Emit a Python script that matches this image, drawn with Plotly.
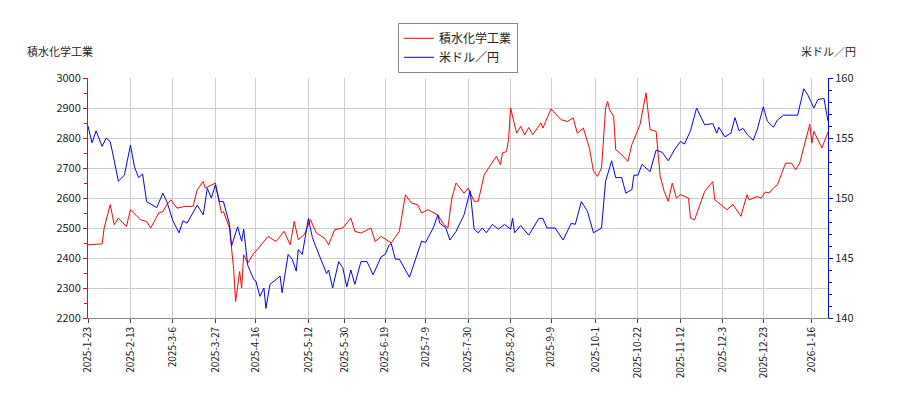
import plotly.graph_objects as go

red_dates = ["2025-01-23","2025-01-30","2025-01-31","2025-02-03","2025-02-05","2025-02-07","2025-02-11","2025-02-13","2025-02-18","2025-02-21","2025-02-23","2025-02-27","2025-03-01","2025-03-03","2025-03-05","2025-03-08","2025-03-12","2025-03-16","2025-03-18","2025-03-21","2025-03-22","2025-03-25","2025-03-27","2025-03-30","2025-03-31","2025-04-03","2025-04-05","2025-04-06","2025-04-08","2025-04-09","2025-04-10","2025-04-12","2025-04-15","2025-04-17","2025-04-22","2025-04-26","2025-04-30","2025-05-03","2025-05-05","2025-05-07","2025-05-10","2025-05-13","2025-05-16","2025-05-20","2025-05-22","2025-05-25","2025-05-29","2025-06-02","2025-06-04","2025-06-07","2025-06-12","2025-06-14","2025-06-17","2025-06-22","2025-06-26","2025-06-29","2025-07-02","2025-07-05","2025-07-07","2025-07-10","2025-07-15","2025-07-18","2025-07-20","2025-07-22","2025-07-24","2025-07-28","2025-07-30","2025-08-02","2025-08-04","2025-08-07","2025-08-11","2025-08-13","2025-08-15","2025-08-16","2025-08-18","2025-08-19","2025-08-20","2025-08-23","2025-08-25","2025-08-27","2025-08-29","2025-08-31","2025-09-04","2025-09-05","2025-09-09","2025-09-14","2025-09-17","2025-09-20","2025-09-22","2025-09-25","2025-09-28","2025-09-30","2025-10-02","2025-10-04","2025-10-06","2025-10-07","2025-10-08","2025-10-10","2025-10-11","2025-10-14","2025-10-17","2025-10-19","2025-10-23","2025-10-26","2025-10-28","2025-10-31","2025-11-02","2025-11-04","2025-11-06","2025-11-08","2025-11-10","2025-11-12","2025-11-16","2025-11-17","2025-11-19","2025-11-21","2025-11-24","2025-11-28","2025-11-29","2025-12-02","2025-12-05","2025-12-08","2025-12-12","2025-12-13","2025-12-15","2025-12-16","2025-12-20","2025-12-22","2025-12-24","2025-12-26","2025-12-28","2025-12-30","2026-01-03","2026-01-06","2026-01-08","2026-01-10","2026-01-15","2026-01-16","2026-01-17","2026-01-21","2026-01-24"]
red_values = [2444,2447,2500,2578,2511,2533,2505,2561,2527,2522,2500,2550,2555,2578,2594,2566,2572,2572,2627,2655,2633,2644,2650,2550,2555,2500,2366,2255,2355,2300,2411,2383,2416,2430,2472,2455,2489,2444,2522,2461,2478,2528,2483,2466,2444,2494,2500,2533,2489,2483,2500,2455,2472,2450,2489,2611,2583,2578,2550,2561,2544,2511,2500,2600,2650,2616,2633,2589,2589,2678,2716,2739,2711,2750,2755,2794,2900,2816,2839,2811,2835,2811,2850,2833,2897,2861,2855,2867,2816,2833,2767,2689,2672,2700,2900,2922,2894,2872,2761,2744,2722,2778,2844,2950,2828,2822,2672,2622,2589,2650,2600,2611,2600,2533,2527,2566,2622,2655,2594,2578,2561,2578,2539,2566,2611,2594,2605,2600,2620,2617,2633,2644,2716,2716,2694,2716,2846,2783,2822,2767,2820]

blue_dates = ["2025-01-23","2025-01-25","2025-01-27","2025-01-30","2025-02-01","2025-02-03","2025-02-05","2025-02-07","2025-02-10","2025-02-13","2025-02-15","2025-02-17","2025-02-19","2025-02-21","2025-02-26","2025-03-01","2025-03-03","2025-03-06","2025-03-09","2025-03-11","2025-03-13","2025-03-18","2025-03-21","2025-03-23","2025-03-25","2025-03-27","2025-03-29","2025-03-31","2025-04-03","2025-04-04","2025-04-07","2025-04-09","2025-04-10","2025-04-12","2025-04-15","2025-04-16","2025-04-18","2025-04-20","2025-04-21","2025-04-23","2025-04-26","2025-04-28","2025-04-29","2025-05-02","2025-05-04","2025-05-06","2025-05-07","2025-05-09","2025-05-12","2025-05-14","2025-05-16","2025-05-18","2025-05-21","2025-05-22","2025-05-24","2025-05-27","2025-05-29","2025-05-31","2025-06-02","2025-06-04","2025-06-07","2025-06-10","2025-06-13","2025-06-17","2025-06-19","2025-06-21","2025-06-22","2025-06-24","2025-06-26","2025-07-01","2025-07-04","2025-07-07","2025-07-09","2025-07-13","2025-07-15","2025-07-16","2025-07-19","2025-07-21","2025-07-24","2025-07-28","2025-07-31","2025-08-02","2025-08-04","2025-08-06","2025-08-08","2025-08-11","2025-08-14","2025-08-17","2025-08-20","2025-08-21","2025-08-22","2025-08-25","2025-08-29","2025-09-03","2025-09-05","2025-09-07","2025-09-11","2025-09-15","2025-09-19","2025-09-21","2025-09-24","2025-09-27","2025-09-30","2025-10-04","2025-10-06","2025-10-09","2025-10-11","2025-10-14","2025-10-16","2025-10-19","2025-10-20","2025-10-22","2025-10-24","2025-10-28","2025-10-31","2025-11-03","2025-11-06","2025-11-09","2025-11-12","2025-11-14","2025-11-17","2025-11-20","2025-11-24","2025-11-28","2025-11-30","2025-12-01","2025-12-04","2025-12-07","2025-12-09","2025-12-11","2025-12-13","2025-12-15","2025-12-18","2025-12-20","2025-12-23","2025-12-25","2025-12-28","2025-12-30","2026-01-02","2026-01-09","2026-01-12","2026-01-14","2026-01-17","2026-01-19","2026-01-22","2026-01-24"]
blue_values = [156.0,154.6,155.6,154.3,155.0,154.7,153.1,151.4,151.9,154.4,152.6,151.7,152.0,149.7,149.2,150.4,149.7,148.1,147.1,148.1,147.9,149.4,148.6,150.8,150.0,151.1,149.7,149.7,147.8,146.0,147.6,146.4,147.4,144.4,143.2,143.1,141.8,142.5,140.8,142.8,143.2,143.5,142.1,145.3,144.9,143.9,145.7,145.3,148.3,146.7,145.8,144.9,143.7,144.0,142.5,144.7,144.2,142.6,144.0,142.8,144.7,144.7,143.6,145.1,145.3,146.1,146.2,144.9,144.9,143.4,144.9,146.4,146.3,147.6,148.6,147.9,147.5,146.5,147.2,148.6,150.6,147.4,147.1,147.5,147.1,147.8,147.4,147.8,147.4,148.3,147.1,147.7,146.9,148.3,148.3,147.5,147.5,146.5,147.9,147.8,149.7,148.9,147.1,147.5,151.4,153.1,151.7,151.7,150.4,150.7,151.9,151.9,152.8,152.2,154.0,153.8,153.1,154.0,154.7,154.5,155.6,157.5,156.1,156.2,155.4,155.9,155.1,155.4,156.7,155.6,155.8,155.3,154.8,155.7,157.6,156.4,155.9,156.5,156.9,156.9,159.1,158.6,157.5,158.2,158.3,156.4]

tick_dates = ["2025-01-23","2025-02-13","2025-03-06","2025-03-27","2025-04-16","2025-05-12","2025-05-30","2025-06-19","2025-07-09","2025-07-30","2025-08-20","2025-09-09","2025-10-01","2025-10-22","2025-11-12","2025-12-03","2025-12-23","2026-01-16"]
tick_labels = ["2025-1-23","2025-2-13","2025-3-6","2025-3-27","2025-4-16","2025-5-12","2025-5-30","2025-6-19","2025-7-9","2025-7-30","2025-8-20","2025-9-9","2025-10-1","2025-10-22","2025-11-12","2025-12-3","2025-12-23","2026-1-16"]

font = "Noto Sans CJK JP"
fig = go.Figure()
fig.add_trace(go.Scatter(x=red_dates, y=red_values, name="積水化学工業", mode="lines",
                         line=dict(color="red", width=1)))
fig.add_trace(go.Scatter(x=blue_dates, y=blue_values, name="米ドル／円", mode="lines",
                         line=dict(color="blue", width=1), yaxis="y2"))
fig.update_layout(
    width=900, height=400, plot_bgcolor="white", paper_bgcolor="white",
    margin=dict(l=80, r=80, t=70, b=90, autoexpand=False),
    font=dict(family=font, size=11, color="#222"),
    legend=dict(x=0.5, y=1.23, xanchor="center", yanchor="top", bordercolor="#888",
                borderwidth=1, font=dict(size=12)),
    xaxis=dict(type="date", range=["2025-01-23", "2026-01-24"], tickvals=tick_dates, automargin=False,
               ticktext=tick_labels, tickangle=-90, showgrid=True, gridcolor="#ccc",
               ticks="outside", ticklen=4, showline=True, linecolor="#888", tickfont=dict(size=10)),
    yaxis=dict(range=[2200, 3000], dtick=100, showgrid=True, gridcolor="#ccc", automargin=False,
               showline=True, linecolor="red", linewidth=1, ticks="outside", tickcolor="red", ticklen=4,
               minor=dict(dtick=50, ticks="outside", ticklen=3, tickcolor="red"), tickfont=dict(size=11)),
    yaxis2=dict(range=[140, 160], dtick=5, overlaying="y", side="right", showgrid=False, automargin=False,
                showline=True, linecolor="blue", ticks="outside", tickcolor="blue", ticklen=4,
                minor=dict(dtick=1, ticks="outside", ticklen=3, tickcolor="blue"), tickfont=dict(size=11)),
    annotations=[
        dict(text="積水化学工業", xref="paper", yref="paper", x=-0.085, y=1.07, xanchor="left",
             yanchor="bottom", showarrow=False, font=dict(size=11)),
        dict(text="米ドル／円", xref="paper", yref="paper", x=1.04, y=1.07, xanchor="right",
             yanchor="bottom", showarrow=False, font=dict(size=11)),
    ],
)
fig.write_html("out.html")
